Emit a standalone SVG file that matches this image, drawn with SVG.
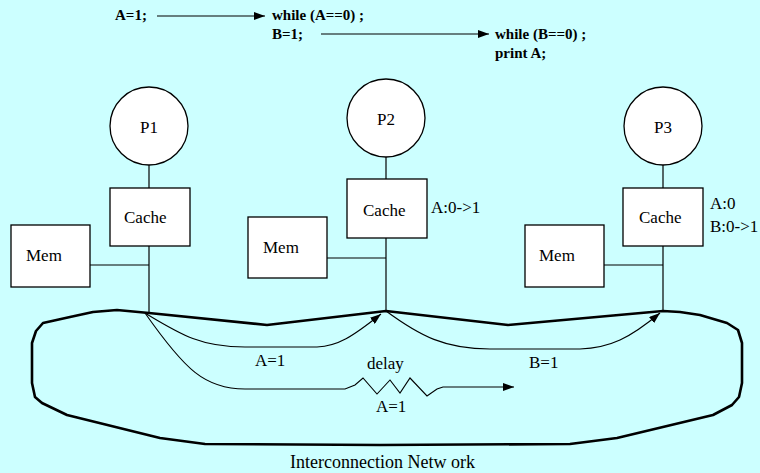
<svg xmlns="http://www.w3.org/2000/svg" width="760" height="473" viewBox="0 0 760 473">
  <style>
    .bg { fill: #ccffff; }
    .node { fill: #ffffff; stroke: #000000; stroke-width: 1.3; }
    .wire { fill: none; stroke: #000000; stroke-width: 1.2; }
    .msg { fill: none; stroke: #000000; stroke-width: 1.1; }
    .ring { fill: none; stroke: #000000; stroke-width: 2.6; stroke-linejoin: round; }
    .lbl { font-family: 'Liberation Serif', 'DejaVu Serif', serif; font-size: 17px; fill: #000000; }
    .code { font-family: 'Liberation Serif', 'DejaVu Serif', serif; font-size: 15px; font-weight: bold; fill: #000000; }
  </style>
  <defs>
    <marker id="arrow" markerWidth="12" markerHeight="8" refX="11" refY="4" orient="auto" markerUnits="userSpaceOnUse">
      <path d="M0,0 L11,4 L0,8 Z" fill="#000000"/>
    </marker>
  </defs>

  <rect class="bg" x="0" y="0" width="760" height="473"/>

  <!-- program order across the three processors -->
  <g id="code">
    <text class="code" x="115" y="20">A=1;</text>
    <text class="code" x="272" y="20">while (A==0) ;</text>
    <text class="code" x="272" y="39">B=1;</text>
    <text class="code" x="495" y="39">while (B==0) ;</text>
    <text class="code" x="495" y="58">print A;</text>
  </g>

  <!-- interconnection network outline -->
  <g id="network">
    <path class="ring" d="M149,313 L267,325 L386,311 L508,325 L663,311 L680,312 L700,315 L727,323 L738,330 L742,343 L742,383 L739,397 L732,405 L713,415 L617,438 L570,444 L380,445 L205,444 L160,438 L67,415 L42,403 L35,397 L32,383 L32,343 L36,331 L43,323 L70,317 L93,312 L117,310 Z"/>
    <text class="lbl" x="290" y="468" style="font-size:18px">Interconnection Netw ork</text>
  </g>

  <!-- processor / cache / memory nodes -->
  <g id="node-p1">
    <circle class="node" cx="149" cy="126" r="39"/>
    <text class="lbl" x="140" y="133">P1</text>
  </g>
  <g id="node-cache1">
    <rect class="node" x="110" y="188" width="80" height="58"/>
    <text class="lbl" x="124" y="223">Cache</text>
  </g>
  <g id="node-mem1">
    <rect class="node" x="11" y="225" width="79" height="62"/>
    <text class="lbl" x="26" y="261">Mem</text>
  </g>

  <g id="node-p2">
    <circle class="node" cx="386" cy="118" r="39"/>
    <text class="lbl" x="377" y="125">P2</text>
  </g>
  <g id="node-cache2">
    <rect class="node" x="347" y="179" width="80" height="59"/>
    <text class="lbl" x="363" y="216">Cache</text>
    <text class="lbl" x="431" y="213">A:0-&gt;1</text>
  </g>
  <g id="node-mem2">
    <rect class="node" x="248" y="217" width="79" height="61"/>
    <text class="lbl" x="263" y="253">Mem</text>
  </g>

  <g id="node-p3">
    <circle class="node" cx="663" cy="126" r="39"/>
    <text class="lbl" x="654" y="133">P3</text>
  </g>
  <g id="node-cache3">
    <rect class="node" x="623" y="188" width="80" height="58"/>
    <text class="lbl" x="639" y="223">Cache</text>
    <text class="lbl" x="710" y="209">A:0</text>
    <text class="lbl" x="710" y="232">B:0-&gt;1</text>
  </g>
  <g id="node-mem3">
    <rect class="node" x="525" y="225" width="79" height="62"/>
    <text class="lbl" x="539" y="261">Mem</text>
  </g>

  <!-- connectors -->
  <g id="connectors">
    <!-- program-order arrows -->
    <line class="msg" x1="157" y1="16" x2="265" y2="16" marker-end="url(#arrow)"/>
    <line class="msg" x1="321" y1="34" x2="489" y2="34" marker-end="url(#arrow)"/>

    <!-- node wiring -->
    <line class="wire" x1="149" y1="165" x2="149" y2="188"/>
    <line class="wire" x1="149" y1="246" x2="149" y2="313"/>
    <line class="wire" x1="90" y1="265" x2="149" y2="265"/>

    <line class="wire" x1="386" y1="157" x2="386" y2="179"/>
    <line class="wire" x1="386" y1="238" x2="386" y2="311"/>
    <line class="wire" x1="327" y1="258" x2="386" y2="258"/>

    <line class="wire" x1="663" y1="165" x2="663" y2="188"/>
    <line class="wire" x1="663" y1="246" x2="663" y2="311"/>
    <line class="wire" x1="604" y1="265" x2="663" y2="265"/>

    <!-- write A=1 from P1 to P2 -->
    <path class="msg" d="M145,313 C180,334 200,347 245,347 L317,347 C338,346 352,337 381,314" marker-end="url(#arrow)"/>
    <text class="lbl" x="255" y="366">A=1</text>

    <!-- write B=1 from P2 to P3 -->
    <path class="msg" d="M386,311 C420,336 445,349 490,349 L580,349 C610,348 630,338 660,313" marker-end="url(#arrow)"/>
    <text class="lbl" x="529" y="368">B=1</text>

    <!-- delayed write A=1 from P1 to P3 -->
    <path class="msg" d="M145,313 C185,370 205,389 245,389 L345,389 L355,385 L363,378 L377,394 L390,380 L400,393 L410,378 L427,396 L437,389 L443,387 L514,387" marker-end="url(#arrow)"/>
    <text class="lbl" x="367" y="369">delay</text>
    <text class="lbl" x="376" y="412">A=1</text>
  </g>
</svg>
